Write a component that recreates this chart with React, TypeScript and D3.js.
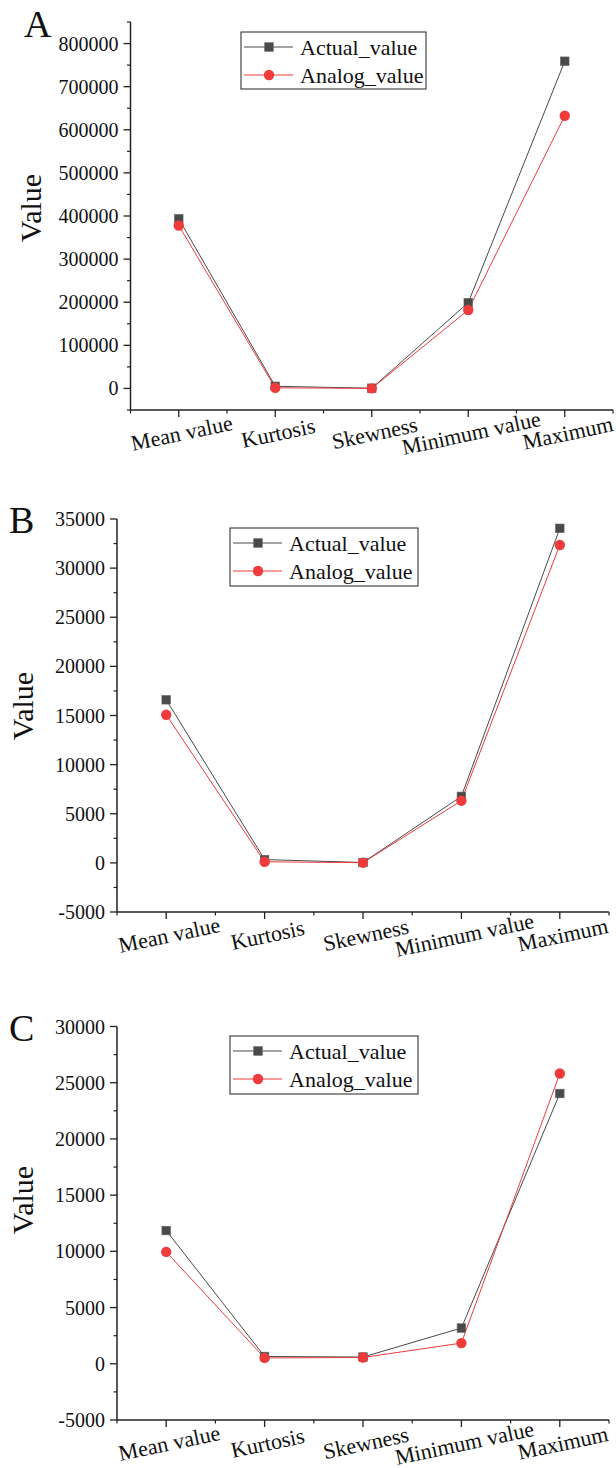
import React from "react";
import * as d3 from "d3";

const categories = ["Mean value", "Kurtosis", "Skewness", "Minimum value", "Maximum"];
const seriesNames = ["Actual_value", "Analog_value"];

const actualA = [393500, 5000, 500, 199000, 759000];
const analogA = [378000, 1500, 200, 182000, 632500];
const actualB = [16600, 335, 40, 6770, 34050];
const analogB = [15070, 110, 20, 6330, 32350];
const actualC = [11850, 650, 600, 3180, 24040];
const analogC = [9950, 520, 560, 1840, 25820];

const ticksA = [0, 100000, 200000, 300000, 400000, 500000, 600000, 700000, 800000];
const ticksB = [-5000, 0, 5000, 10000, 15000, 20000, 25000, 30000, 35000];
const ticksC = [-5000, 0, 5000, 10000, 15000, 20000, 25000, 30000];

const FONT = "'Liberation Serif', 'Times New Roman', serif";
const GRAY = "#4a4a4a";
const RED = "#ef3b3b";

type PanelCfg = {
  letter: string;
  letterX: number;
  letterY: number;
  actual: number[];
  analog: number[];
  domain: [number, number];
  yTop: number;
  yBottom: number;
  xLeft: number;
  xRight: number;
  ticks: number[];
  minorStep: number;
  valueX: number;
  valueY: number;
  legend: { x: number; y: number; w: number; h: number };
};

const panels: PanelCfg[] = [
  {
    letter: "A", letterX: 24, letterY: 37,
    actual: actualA, analog: analogA,
    domain: [-50000, 850000], yTop: 22, yBottom: 410,
    xLeft: 130.5, xRight: 613, ticks: ticksA, minorStep: 50000,
    valueX: 30, valueY: 208,
    legend: { x: 241, y: 32, w: 185, h: 57 },
  },
  {
    letter: "B", letterX: 9, letterY: 533,
    actual: actualB, analog: analogB,
    domain: [-5000, 35000], yTop: 519, yBottom: 912,
    xLeft: 117, xRight: 609, ticks: ticksB, minorStep: 2500,
    valueX: 22, valueY: 706,
    legend: { x: 230, y: 528, w: 188, h: 58 },
  },
  {
    letter: "C", letterX: 9, letterY: 1041,
    actual: actualC, analog: analogC,
    domain: [-5000, 30000], yTop: 1026.5, yBottom: 1420,
    xLeft: 117, xRight: 609, ticks: ticksC, minorStep: 2500,
    valueX: 22, valueY: 1200,
    legend: { x: 230, y: 1036, w: 188, h: 58 },
  },
];

function Square({ x, y }: { x: number; y: number }) {
  return <rect x={x - 4.3} y={y - 4.3} width={8.6} height={8.6} fill={GRAY} stroke="#666" strokeWidth={0.6} />;
}
function Dot({ x, y }: { x: number; y: number }) {
  return <circle cx={x} cy={y} r={5.2} fill={RED} />;
}

function Panel({ p }: { p: PanelCfg }) {
  const x = d3.scaleLinear().domain([0.5, 5.5]).range([p.xLeft, p.xRight]);
  const y = d3.scaleLinear().domain(p.domain).range([p.yBottom, p.yTop]);
  const line = d3
    .line<number>()
    .x((_, i) => x(i + 1))
    .y((v) => y(v));
  const minor = d3.range(p.domain[0], p.domain[1] + 1, p.minorStep).filter((v) => !p.ticks.includes(v));
  const xMinor = [0.5, 1.5, 2.5, 3.5, 4.5, 5.5];
  const L = p.legend;
  return (
    <g fontFamily={FONT} fill="#111">
      <text x={p.letterX} y={p.letterY} fontSize={38}>{p.letter}</text>
      <text
        transform={`translate(${p.valueX},${p.valueY}) rotate(-90)`}
        textAnchor="middle"
        dominantBaseline="central"
        fontSize={30}
      >
        Value
      </text>
      <line x1={p.xLeft} x2={p.xLeft} y1={p.yTop} y2={p.yBottom} stroke="#222" strokeWidth={1.5} />
      <line x1={p.xLeft} x2={p.xRight} y1={p.yBottom} y2={p.yBottom} stroke="#222" strokeWidth={1.5} />
      {p.ticks.map((t) => (
        <g key={"t" + t}>
          <line x1={p.xLeft - 7} x2={p.xLeft} y1={y(t)} y2={y(t)} stroke="#222" strokeWidth={1.3} />
          <text x={p.xLeft - 12} y={y(t)} textAnchor="end" dominantBaseline="central" fontSize={20}>
            {t}
          </text>
        </g>
      ))}
      {minor.map((t) => (
        <line key={"m" + t} x1={p.xLeft - 3.5} x2={p.xLeft} y1={y(t)} y2={y(t)} stroke="#222" strokeWidth={1.2} />
      ))}
      {xMinor.map((t) => (
        <line key={"xm" + t} x1={x(t)} x2={x(t)} y1={p.yBottom} y2={p.yBottom + 3.5} stroke="#222" strokeWidth={1.2} />
      ))}
      {categories.map((c, i) => (
        <g key={c}>
          <line x1={x(i + 1)} x2={x(i + 1)} y1={p.yBottom} y2={p.yBottom + 7} stroke="#222" strokeWidth={1.3} />
          <text
            transform={`translate(${x(i + 1) + 3},${p.yBottom + 23}) rotate(-12)`}
            textAnchor="middle"
            dominantBaseline="central"
            fontSize={22}
          >
            {c}
          </text>
        </g>
      ))}
      <path d={line(p.actual) || ""} fill="none" stroke={GRAY} strokeWidth={1} />
      <path d={line(p.analog) || ""} fill="none" stroke={RED} strokeWidth={1} />
      {p.actual.map((v, i) => (
        <Square key={"a" + i} x={x(i + 1)} y={y(v)} />
      ))}
      {p.analog.map((v, i) => (
        <Dot key={"b" + i} x={x(i + 1)} y={y(v)} />
      ))}
      <rect x={L.x} y={L.y} width={L.w} height={L.h} fill="white" stroke="#222" strokeWidth={1} />
      {seriesNames.map((s, i) => {
        const ry = L.y + 15 + i * 28;
        return (
          <g key={s}>
            <line x1={L.x + 3} x2={L.x + 52} y1={ry} y2={ry} stroke={i === 0 ? GRAY : RED} strokeWidth={1} />
            {i === 0 ? <Square x={L.x + 28} y={ry} /> : <Dot x={L.x + 28} y={ry} />}
            <text x={L.x + 59} y={ry} dominantBaseline="central" fontSize={22}>
              {s}
            </text>
          </g>
        );
      })}
    </g>
  );
}

export default function App() {
  return (
    <svg
      width={616}
      height={1468}
      style={{ position: "absolute", left: 0, top: 0, background: "white" }}
    >
      {panels.map((p) => (
        <Panel key={p.letter} p={p} />
      ))}
    </svg>
  );
}
